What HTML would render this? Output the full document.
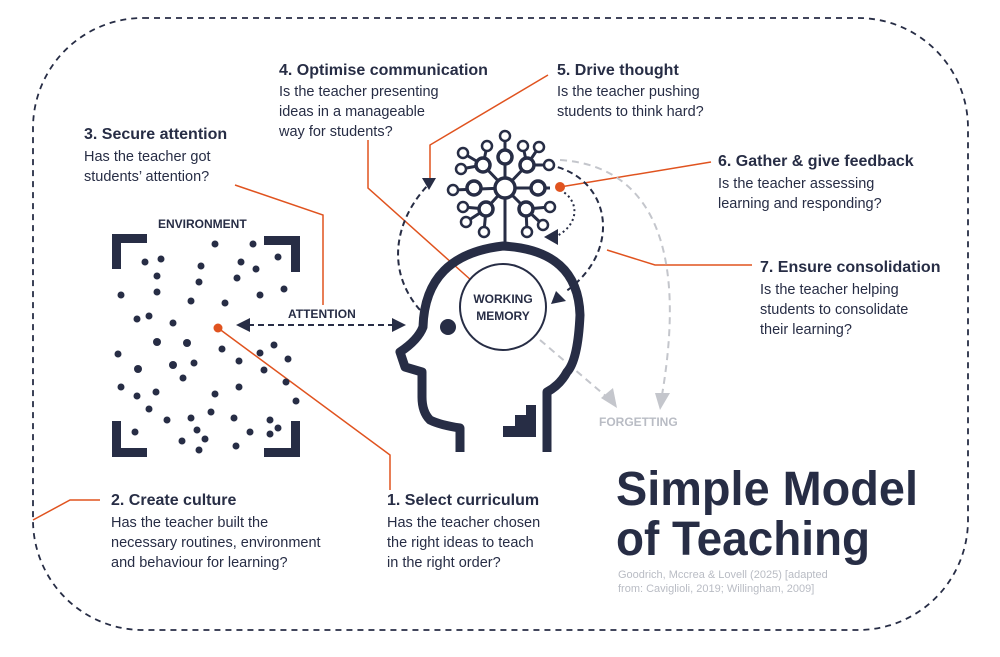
<!DOCTYPE html>
<html><head><meta charset="utf-8"><style>
body{margin:0;background:#fff}
svg{display:block}
text{font-family:"Liberation Sans",sans-serif;fill:#272d45}
.h{font-weight:bold;font-size:16px}
.b{font-size:14.5px}
.s{font-weight:bold;font-size:12px}
</style></head><body>
<svg width="1000" height="657" viewBox="0 0 1000 657" xmlns="http://www.w3.org/2000/svg">
<rect x="33" y="18" width="935" height="612" rx="110" fill="none" stroke="#272d45" stroke-width="1.8" stroke-dasharray="6 5"/>
<!-- orange connectors -->
<g fill="none" stroke="#e0531f" stroke-width="1.5">
<polyline points="368,140 368,188 472,281"/>
<polyline points="548,75 430,145 430,180"/>
<polyline points="235,185 323,215 323,305"/>
<line x1="711" y1="162" x2="560" y2="187"/>
<polyline points="752,265 655,265 607,250"/>
<polyline points="218,328 390,455 390,490"/>
<polyline points="100,500 70,500 33,520"/>
</g>
<!-- grey dashed -->
<g fill="none" stroke="#c4c6cc" stroke-width="2" stroke-dasharray="7 5">
<path d="M560,160 C640,165 690,230 662,395"/>
<path d="M540,340 L608,398"/>
</g>
<polygon points="655,393 670,393 660,410" fill="#c4c6cc"/>
<polygon points="601,398 613,388 617,408" fill="#c4c6cc"/>
<!-- dark dashed loops -->
<g fill="none" stroke="#272d45" stroke-width="2" stroke-dasharray="6 4">
<path d="M420,310 C385,270 395,220 428,185"/>
<path d="M548,165 C610,175 625,250 565,292"/>
<line x1="238" y1="325" x2="400" y2="325"/>
</g>
<path d="M560,190 C580,200 580,225 555,237" fill="none" stroke="#272d45" stroke-width="2" stroke-dasharray="2 3"/>
<polygon points="422,178 436,178 429,190" fill="#272d45"/>
<polygon points="544,237 558,229 558,245" fill="#272d45"/>
<polygon points="551,304 556,291 566,301" fill="#272d45"/>
<polygon points="236,325 250,318 250,332" fill="#272d45"/>
<polygon points="406,325 392,318 392,332" fill="#272d45"/>
<!-- head -->
<path d="M460,452 L460,428 Q440,425 430,420 Q422,412 422,397 L422,372 L405,367 L400,352 Q418,340 423,327 Q425,255 503,246 Q578,250 580,315 Q578,360 567,372 Q560,385 547,392 L547,452" fill="none" stroke="#272d45" stroke-width="9" stroke-linejoin="round"/>
<circle cx="503" cy="307" r="43" fill="#fff" stroke="#272d45" stroke-width="2"/>
<circle cx="448" cy="327" r="8" fill="#272d45"/>
<polygon points="503,437 536,437 536,405 526,405 526,415 515,415 515,426 503,426" fill="#272d45"/>
<text class="s" x="503" y="303" text-anchor="middle">WORKING</text>
<text class="s" x="503" y="320" text-anchor="middle">MEMORY</text>
<!-- brain tree -->
<g stroke="#272d45" stroke-width="3" fill="#fff">
<line x1="505" y1="197" x2="505" y2="246"/>
<g>
<line x1="505" y1="188" x2="505" y2="136"/><line x1="505" y1="188" x2="483" y2="165"/><line x1="505" y1="188" x2="527" y2="165"/><line x1="505" y1="188" x2="453" y2="190"/><line x1="505" y1="188" x2="550" y2="188"/><line x1="505" y1="188" x2="486" y2="209"/><line x1="505" y1="188" x2="526" y2="209"/>
<line x1="483" y1="165" x2="487" y2="146"/><line x1="483" y1="165" x2="463" y2="153"/><line x1="483" y1="165" x2="461" y2="169"/>
<line x1="527" y1="165" x2="523" y2="146"/><line x1="527" y1="165" x2="539" y2="147"/><line x1="527" y1="165" x2="549" y2="165"/>
<line x1="486" y1="209" x2="463" y2="207"/><line x1="486" y1="209" x2="466" y2="222"/><line x1="486" y1="209" x2="484" y2="232"/>
<line x1="526" y1="209" x2="550" y2="207"/><line x1="526" y1="209" x2="543" y2="225"/><line x1="526" y1="209" x2="527" y2="232"/>
</g>
<g stroke-width="2.5">
<circle cx="505" cy="136" r="5"/><circle cx="487" cy="146" r="5"/><circle cx="523" cy="146" r="5"/><circle cx="539" cy="147" r="5"/><circle cx="463" cy="153" r="5"/><circle cx="549" cy="165" r="5"/><circle cx="461" cy="169" r="5"/><circle cx="453" cy="190" r="5"/><circle cx="463" cy="207" r="5"/><circle cx="550" cy="207" r="5"/><circle cx="466" cy="222" r="5"/><circle cx="543" cy="225" r="5"/><circle cx="484" cy="232" r="5"/><circle cx="527" cy="232" r="5"/>
</g>
<g stroke-width="3.5">
<circle cx="505" cy="157" r="7"/><circle cx="483" cy="165" r="7"/><circle cx="527" cy="165" r="7"/><circle cx="474" cy="188" r="7"/><circle cx="538" cy="188" r="7"/><circle cx="486" cy="209" r="7"/><circle cx="526" cy="209" r="7"/>
<circle cx="505" cy="188" r="10"/>
</g>
</g>
<circle cx="560" cy="187" r="5" fill="#e0531f"/>
<!-- environment -->
<g fill="#272d45">
<path d="M112,234 H147 V243 H121 V269 H112 Z"/>
<path d="M300,236 H264 V245 H291 V272 H300 Z"/>
<path d="M112,457 H147 V448 H121 V421 H112 Z"/>
<path d="M300,457 H264 V448 H291 V421 H300 Z"/>
<g>
<circle cx="215" cy="244" r="3.5"/><circle cx="253" cy="244" r="3.5"/><circle cx="145" cy="262" r="3.5"/><circle cx="161" cy="259" r="3.5"/><circle cx="201" cy="266" r="3.5"/><circle cx="241" cy="262" r="3.5"/><circle cx="256" cy="269" r="3.5"/><circle cx="278" cy="257" r="3.5"/><circle cx="157" cy="276" r="3.5"/><circle cx="199" cy="282" r="3.5"/><circle cx="237" cy="278" r="3.5"/><circle cx="121" cy="295" r="3.5"/><circle cx="157" cy="292" r="3.5"/><circle cx="191" cy="301" r="3.5"/><circle cx="225" cy="303" r="3.5"/><circle cx="260" cy="295" r="3.5"/><circle cx="284" cy="289" r="3.5"/><circle cx="137" cy="319" r="3.5"/><circle cx="149" cy="316" r="3.5"/><circle cx="173" cy="323" r="3.5"/><circle cx="157" cy="342" r="4"/><circle cx="187" cy="343" r="4"/><circle cx="222" cy="349" r="3.5"/><circle cx="118" cy="354" r="3.5"/><circle cx="260" cy="353" r="3.5"/><circle cx="274" cy="345" r="3.5"/><circle cx="288" cy="359" r="3.5"/><circle cx="239" cy="361" r="3.5"/><circle cx="138" cy="369" r="4"/><circle cx="173" cy="365" r="4"/><circle cx="194" cy="363" r="3.5"/><circle cx="264" cy="370" r="3.5"/><circle cx="183" cy="378" r="3.5"/><circle cx="121" cy="387" r="3.5"/><circle cx="137" cy="396" r="3.5"/><circle cx="156" cy="392" r="3.5"/><circle cx="215" cy="394" r="3.5"/><circle cx="239" cy="387" r="3.5"/><circle cx="286" cy="382" r="3.5"/><circle cx="296" cy="401" r="3.5"/><circle cx="149" cy="409" r="3.5"/><circle cx="167" cy="420" r="3.5"/><circle cx="191" cy="418" r="3.5"/><circle cx="211" cy="412" r="3.5"/><circle cx="234" cy="418" r="3.5"/><circle cx="270" cy="420" r="3.5"/><circle cx="278" cy="428" r="3.5"/><circle cx="197" cy="430" r="3.5"/><circle cx="135" cy="432" r="3.5"/><circle cx="250" cy="432" r="3.5"/><circle cx="270" cy="434" r="3.5"/><circle cx="205" cy="439" r="3.5"/><circle cx="182" cy="441" r="3.5"/><circle cx="199" cy="450" r="3.5"/><circle cx="236" cy="446" r="3.5"/>
</g>
</g>
<circle cx="218" cy="328" r="4.5" fill="#e0531f"/>
<text class="s" x="158" y="228">ENVIRONMENT</text>
<text class="s" x="288" y="318">ATTENTION</text>
<text class="s" x="599" y="426" style="fill:#b9bcc4">FORGETTING</text>
<!-- labels -->
<text class="h" x="279" y="75">4. Optimise communication</text>
<text class="b" x="279" y="96">Is the teacher presenting</text>
<text class="b" x="279" y="116">ideas in a manageable</text>
<text class="b" x="279" y="136">way for students?</text>
<text class="h" x="557" y="75">5. Drive thought</text>
<text class="b" x="557" y="96">Is the teacher pushing</text>
<text class="b" x="557" y="116">students to think hard?</text>
<text class="h" x="84" y="139">3. Secure attention</text>
<text class="b" x="84" y="161">Has the teacher got</text>
<text class="b" x="84" y="181">students’ attention?</text>
<text class="h" x="718" y="166">6. Gather &amp; give feedback</text>
<text class="b" x="718" y="188">Is the teacher assessing</text>
<text class="b" x="718" y="208">learning and responding?</text>
<text class="h" x="760" y="272">7. Ensure consolidation</text>
<text class="b" x="760" y="294">Is the teacher helping</text>
<text class="b" x="760" y="314">students to consolidate</text>
<text class="b" x="760" y="334">their learning?</text>
<text class="h" x="111" y="505">2. Create culture</text>
<text class="b" x="111" y="527">Has the teacher built the</text>
<text class="b" x="111" y="547">necessary routines, environment</text>
<text class="b" x="111" y="567">and behaviour for learning?</text>
<text class="h" x="387" y="505">1. Select curriculum</text>
<text class="b" x="387" y="527">Has the teacher chosen</text>
<text class="b" x="387" y="547">the right ideas to teach</text>
<text class="b" x="387" y="567">in the right order?</text>
<text x="616" y="505" font-size="48" font-weight="bold" textLength="302" lengthAdjust="spacingAndGlyphs">Simple Model</text>
<text x="616" y="555" font-size="48" font-weight="bold" textLength="254" lengthAdjust="spacingAndGlyphs">of Teaching</text>
<text x="618" y="578" font-size="11" style="fill:#b9bcc4">Goodrich, Mccrea &amp; Lovell (2025) [adapted</text>
<text x="618" y="592" font-size="11" style="fill:#b9bcc4">from: Caviglioli, 2019; Willingham, 2009]</text>
</svg>
</body></html>
